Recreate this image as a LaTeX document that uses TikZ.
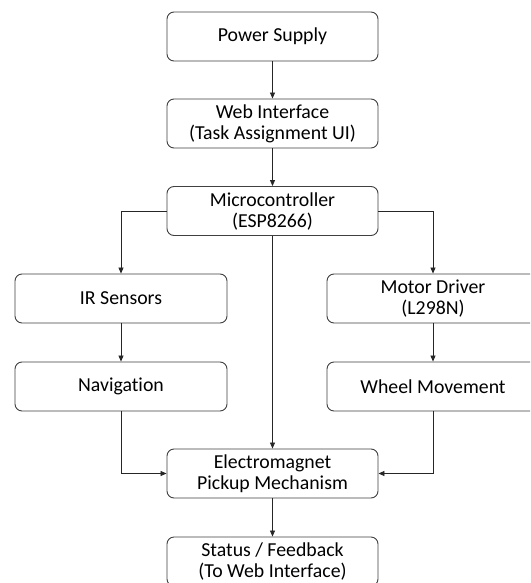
\documentclass[tikz,border=0pt]{standalone}
\usepackage{fontspec}
\setmainfont{Carlito}[Ligatures={NoCommon}]
\usetikzlibrary{arrows.meta}
\begin{document}
\begin{tikzpicture}[x=1pt,y=-1pt,
  blk/.style={draw=black!75, line width=0.9pt, rounded corners=7pt, minimum width=211pt, minimum height=49pt, inner sep=0pt, align=center, font=\fontsize{19.8}{21}\selectfont, text=black},
  conn/.style={draw=black!85, line width=0.8pt, -{Triangle[length=6pt,width=5pt]}}]
\clip (0,0) rectangle (530,583);
\useasboundingbox (0,0) rectangle (530,583);
\fill[white] (0,0) rectangle (530,583);
\node[blk] (power) at (272.5,36.5) {Power Supply};
\node[blk] (web) at (272.5,123.5) {Web Interface\\(Task Assignment UI)};
\node[blk] (micro) at (272.5,211) {Microcontroller\\(ESP8266)};
\node[blk, minimum width=212pt] (ir) at (121,298.5) {IR Sensors};
\node[blk, minimum width=212pt] (nav) at (121,386.5) {Navigation};
\node[blk, minimum width=212pt] (motor) at (433,298.5) {Motor Driver\\(L298N)};
\node[blk, minimum width=212pt] (wheel) at (433,386.5) {Wheel Movement};
\node[blk] (electro) at (272.5,473.5) {Electromagnet\\Pickup Mechanism};
\node[blk] (status) at (272.5,561.5) {Status / Feedback\\(To Web Interface)};
\draw[conn] (power) -- (web);
\draw[conn] (web) -- (micro);
\draw[conn] (micro.west) -| (ir.north);
\draw[conn] (micro.east) -| (motor.north);
\draw[conn] (ir) -- (nav);
\draw[conn] (motor) -- (wheel);
\draw[conn] (micro) -- (electro);
\draw[conn] (nav.south) |- (electro.west);
\draw[conn] (wheel.south) |- (electro.east);
\draw[conn] (electro) -- (status);
\end{tikzpicture}
\end{document}
